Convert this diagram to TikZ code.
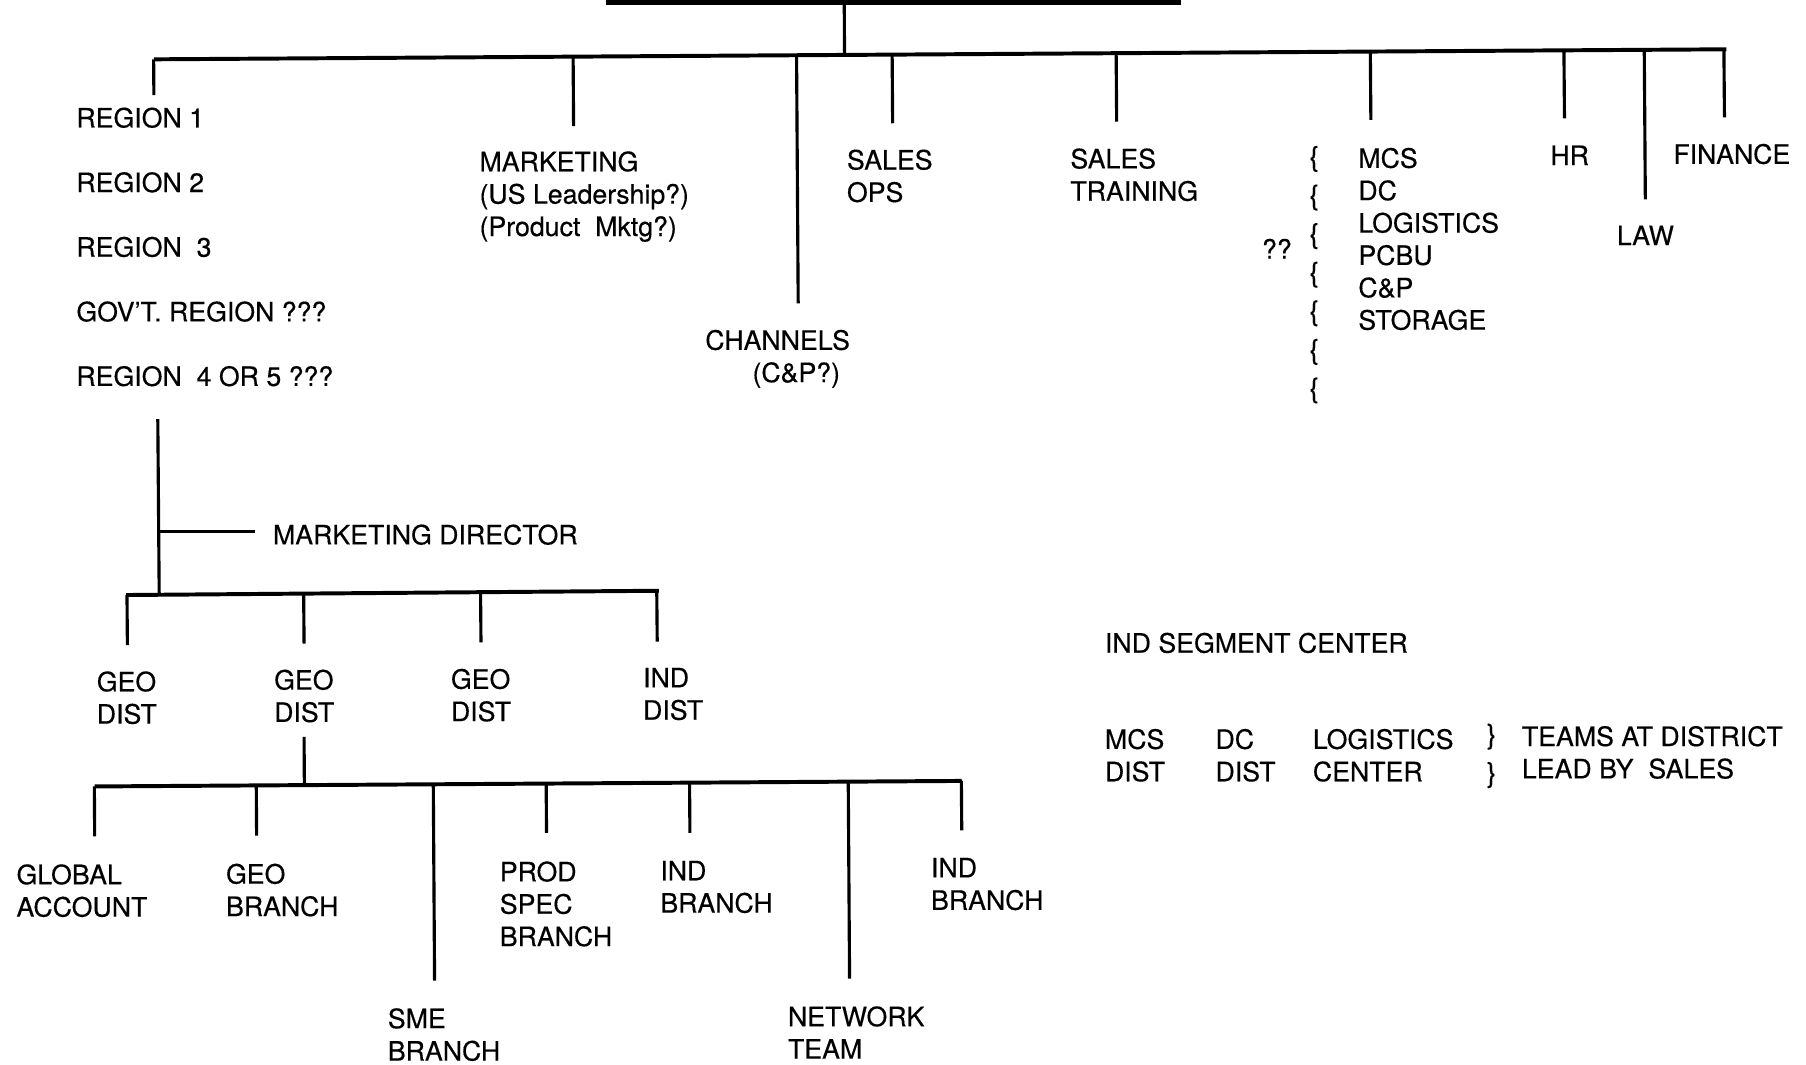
\documentclass[tikz,border=0pt]{standalone}
\usepackage{fontspec}
\setmainfont{TeX Gyre Heros}[UprightFeatures={FakeBold=0.35}]
\usetikzlibrary{calc}

\tikzset{
	lbl/.style={anchor=north west, inner sep=0pt, align=left, font=\fontsize{13.2}{16}\selectfont},
	brc/.style={inner sep=0pt, font=\fontsize{13.6}{16}\selectfont},
	wire/.style={line width=1.55pt},
	bar/.style={line width=1.95pt}
}

\begin{document}
\begin{tikzpicture}[x=0.02cm, y=-0.02cm]
	\useasboundingbox (0,0) rectangle (1568,924);
	% top box, cut off by the page
	\fill (526,0) rectangle (1025,4.5);
	\coordinate (ceo)  at (733,4.5);
	\coordinate (barL) at (133.6,51.5);
	\coordinate (barR) at (1498.8,42.8);
	\draw[bar] (barL) -- (barR);
	\draw[wire] (ceo) -- ($(barL)!(ceo)!(barR)$);
	% drops from the top bar
	\coordinate (regE) at (133.6,82.5);
	\coordinate (mktE) at (498,109.4);
	\coordinate (chnE) at (693,263.4);
	\coordinate (sopE) at (775,107);
	\coordinate (strE) at (969.5,105.6);
	\coordinate (mcsE) at (1190.2,104);
	\coordinate (hrE)  at (1358.3,102.7);
	\coordinate (lawE) at (1428.5,173);
	\coordinate (finE) at (1497.2,101.9);
	\foreach \n in {regE,mktE,chnE,sopE,strE,mcsE,hrE,lawE,finE}
		\draw[wire] ($(barL)!(\n)!(barR)$) -- (\n);
	\foreach \t [count=\i] in {REGION 1,REGION 2,REGION\ \ 3,GOV’T. REGION ???,REGION\ \ 4 OR 5 ???}
		\node[lbl] (region\i) at (66,{93+56.1*(\i-1)}) {\t};
	\node[lbl] (mktg) at (416,131) {MARKETING\\(US Leadership?)\\(Product\ \ Mktg?)};
	\node[lbl] (chan) at (612,286) {CHANNELS\\\hspace*{0.82cm}(C\&P?)};
	\node[lbl] (sops) at (735,129.5) {SALES\\OPS};
	\node[lbl] (strn) at (929,128.5) {SALES\\TRAINING};
	\node[lbl] (qq) at (1095.4,207) {??};
	\foreach \i in {1,...,7}
		\node[brc] (br\i) at (1141,{138+33.5*(\i-1)}) {\{};
	\node[lbl] (grp) at (1179,128) {MCS\\DC\\LOGISTICS\\PCBU\\C\&P\\STORAGE};
	\node[lbl] (hrn) at (1345.7,126) {HR};
	\node[lbl] (lawn) at (1403.5,195.5) {LAW};
	\node[lbl] (finn) at (1452.5,124.5) {FINANCE};
	% region side
	\coordinate (regB) at (137,363.8);
	\coordinate (geoL) at (109.6,516.6);
	\coordinate (geoR) at (572,512.9);
	\draw[bar] (geoL) -- (geoR);
	\draw[wire] (regB) -- ($(geoL)!(regB)!(geoR)$);
	\node[lbl] (md) at (236.7,455) {MARKETING DIRECTOR};
	\coordinate (mdE) at ($(md.west)+(-15,-3)$);
	\draw[wire] (regB |- mdE) -- (mdE);
	\coordinate (gd1E) at (110.6,560);
	\coordinate (gd2E) at (264,558.8);
	\coordinate (gd3E) at (417.6,557.7);
	\coordinate (idE)  at (570.6,557);
	\foreach \n in {gd1E,gd2E,gd3E,idE}
		\draw[wire] ($(geoL)!(\n)!(geoR)$) -- (\n);
	\node[lbl] (gd1) at (83.7,582.5) {GEO\\DIST};
	\node[lbl] (gd2) at (237.7,581) {GEO\\DIST};
	\node[lbl] (gd3) at (391.2,580.3) {GEO\\DIST};
	\node[lbl] (idst) at (558,579.5) {IND\\DIST};
	% branches under the second district
	\coordinate (brL) at (82.2,682.8);
	\coordinate (brR) at (835,678);
	\coordinate (gd2B) at (264,639.8);
	\draw[bar] (brL) -- (brR);
	\draw[wire] (gd2B) -- ($(brL)!(gd2B)!(brR)$);
	\coordinate (glbE) at (82.2,726.2);
	\coordinate (gbrE) at (222.8,725.5);
	\coordinate (smeE) at (377.3,851.3);
	\coordinate (prdE) at (474.5,723);
	\coordinate (ib1E) at (599,723);
	\coordinate (netE) at (737.6,849.6);
	\coordinate (ib2E) at (835,721);
	\foreach \n in {glbE,gbrE,smeE,prdE,ib1E,netE,ib2E}
		\draw[wire] ($(brL)!(\n)!(brR)$) -- (\n);
	\node[lbl] (glb) at (14,750) {GLOBAL\\ACCOUNT};
	\node[lbl] (gbr) at (195.9,749.5) {GEO\\BRANCH};
	\node[lbl] (sme) at (336.4,875) {SME\\BRANCH};
	\node[lbl] (prd) at (433.6,747.5) {PROD\\SPEC\\BRANCH};
	\node[lbl] (ib1) at (573,747) {IND\\BRANCH};
	\node[lbl] (net) at (683.8,873.3) {NETWORK\\TEAM};
	\node[lbl] (ib2) at (808,744.5) {IND\\BRANCH};
	% district teams
	\node[lbl] (isc) at (959,549) {IND SEGMENT CENTER};
	\node[lbl] (mcsd) at (959,632.5) {MCS\\DIST};
	\node[lbl] (dcd) at (1055,632.5) {DC\\DIST};
	\node[lbl] (lgc) at (1139.5,632.5) {LOGISTICS\\CENTER};
	\node[brc] (rb1) at (1295,639.6) {\}};
	\node[brc] (rb2) at (1295,672.9) {\}};
	\node[lbl] (teams) at (1321,630) {TEAMS AT DISTRICT\\LEAD BY\ \ SALES};
\end{tikzpicture}
\end{document}
